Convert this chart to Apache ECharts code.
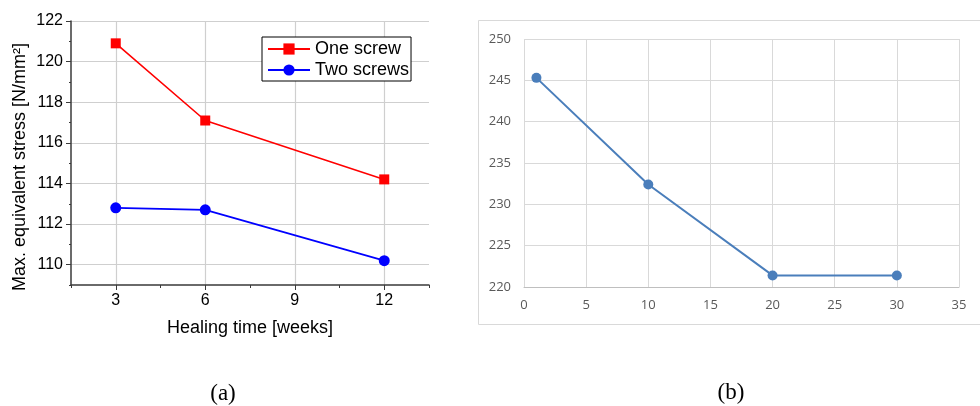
<!DOCTYPE html>
<html><head><meta charset="utf-8">
<script src="https://cdn.jsdelivr.net/npm/echarts@6/dist/echarts.min.js"></script>
<style>html,body{margin:0;padding:0;background:#fff}#c{width:980px;height:406px}</style>
</head><body><div id="c"></div>
<script>
// Left chart (a)
const healingWeeks = [3, 6, 12];
const oneScrew = [120.9, 117.1, 114.2];
const twoScrews = [112.8, 112.7, 110.2];
const leftXLabels = [3, 6, 9, 12];
const leftYLabels = [110, 112, 114, 116, 118, 120, 122];
// Right chart (b)
const rightX = [1, 10, 20, 30];
const rightY = [245.3, 232.4, 221.4, 221.4];

const chart = echarts.init(document.getElementById('c'));
const pairs = (xs, ys) => xs.map((x, i) => [x, ys[i]]);
const F = 'Liberation Sans, Arial, sans-serif';
const axisDark = '#3a3a3a';

chart.setOption({
  animation: false,
  backgroundColor: '#fff',
  grid: [
    {left: 71, top: 21, right: 551, bottom: 121},
    {left: 524, top: 39, right: 21, bottom: 119}
  ],
  legend: {
    orient: 'vertical', left: 262, top: 37,
    data: ['One screw', 'Two screws'],
    backgroundColor: '#fff', borderColor: '#000', borderWidth: 1,
    padding: [3, 2, 2, 5], itemGap: 3, itemWidth: 42, itemHeight: 14,
    textStyle: {fontFamily: F, fontSize: 18, color: '#000', padding: [0, 0, 0, 0]}
  },
  graphic: [
    {type: 'rect', shape: {x: 478.5, y: 20.5, width: 520, height: 304}, style: {fill: 'none', stroke: '#d9d9d9', lineWidth: 1}, z: -1},
    {type: 'text', x: 223, y: 382, style: {text: '(a)', font: '23px "Liberation Serif", serif', fill: '#000', align: 'center', verticalAlign: 'top'}},
    {type: 'text', x: 731, y: 381, style: {text: '(b)', font: '23px "Liberation Serif", serif', fill: '#000', align: 'center', verticalAlign: 'top'}}
  ],
  xAxis: [
    {
      gridIndex: 0, type: 'value', min: 1.5, max: 13.5, interval: 1.5,
      name: 'Healing time [weeks]', nameLocation: 'middle', nameGap: 34,
      nameTextStyle: {fontFamily: F, fontSize: 18, color: '#000'},
      axisLine: {show: true, lineStyle: {color: axisDark, width: 1.5}},
      axisTick: {show: true, inside: false, length: 3, lineStyle: {color: axisDark}},
      axisLabel: {fontFamily: F, fontSize: 16, color: '#000', margin: 8,
        formatter: v => leftXLabels.includes(Math.round(v * 10) / 10) ? String(v) : ''},
      splitLine: {show: true, lineStyle: {color: ['transparent', '#cfcfcf'], width: 1.2}}
    },
    {
      gridIndex: 0, type: 'value', min: 1.5, max: 13.5, position: 'bottom',
      axisLine: {show: false}, axisLabel: {show: false}, splitLine: {show: false},
      axisTick: {show: true, length: 5, customValues: leftXLabels, lineStyle: {color: axisDark}}
    },
    {
      gridIndex: 1, type: 'value', min: 0, max: 35, interval: 5,
      axisLine: {show: true, lineStyle: {color: '#bfbfbf', width: 1}},
      axisTick: {show: false},
      axisLabel: {fontFamily: 'Open Sans, sans-serif', fontSize: 13, color: '#595959', margin: 12},
      splitLine: {show: true, lineStyle: {color: '#d9d9d9', width: 1}}
    }
  ],
  yAxis: [
    {
      gridIndex: 0, type: 'value', min: 109, max: 122, interval: 1,
      name: 'Max. equivalent stress [N/mm²]', nameLocation: 'middle', nameGap: 42,
      nameTextStyle: {fontFamily: F, fontSize: 18, color: '#000', padding: [0, 28, 0, 0]},
      axisLine: {show: true, lineStyle: {color: axisDark, width: 1.5}},
      axisTick: {show: true, length: 2, lineStyle: {color: axisDark}},
      axisLabel: {fontFamily: F, fontSize: 16, color: '#000', margin: 8,
        formatter: v => leftYLabels.includes(v) ? String(v) : ''},
      splitLine: {show: true, lineStyle: {color: ['transparent', '#cfcfcf'], width: 1.2}}
    },
    {
      gridIndex: 0, type: 'value', min: 109, max: 122, position: 'left',
      axisLine: {show: false}, axisLabel: {show: false}, splitLine: {show: false},
      axisTick: {show: true, length: 5, customValues: leftYLabels, lineStyle: {color: axisDark}}
    },
    {
      gridIndex: 1, type: 'value', min: 220, max: 250, interval: 5,
      axisLine: {show: false}, axisTick: {show: false},
      axisLabel: {fontFamily: 'Open Sans, sans-serif', fontSize: 13, color: '#595959', margin: 13},
      splitLine: {show: true, lineStyle: {color: '#d9d9d9', width: 1}}
    }
  ],
  series: [
    {
      name: 'One screw', type: 'line', xAxisIndex: 0, yAxisIndex: 0,
      data: pairs(healingWeeks, oneScrew), symbol: 'rect', symbolSize: 10,
      lineStyle: {color: '#ff0000', width: 1.6}, itemStyle: {color: '#ff0000'}
    },
    {
      name: 'Two screws', type: 'line', xAxisIndex: 0, yAxisIndex: 0,
      data: pairs(healingWeeks, twoScrews), symbol: 'circle', symbolSize: 11,
      lineStyle: {color: '#0000ff', width: 1.6}, itemStyle: {color: '#0000ff'}
    },
    {
      name: 'b', type: 'line', xAxisIndex: 2, yAxisIndex: 2,
      data: pairs(rightX, rightY), symbol: 'circle', symbolSize: 10,
      lineStyle: {color: '#4a7ebb', width: 2}, itemStyle: {color: '#4a7ebb'}
    }
  ]
});
</script></body></html>
